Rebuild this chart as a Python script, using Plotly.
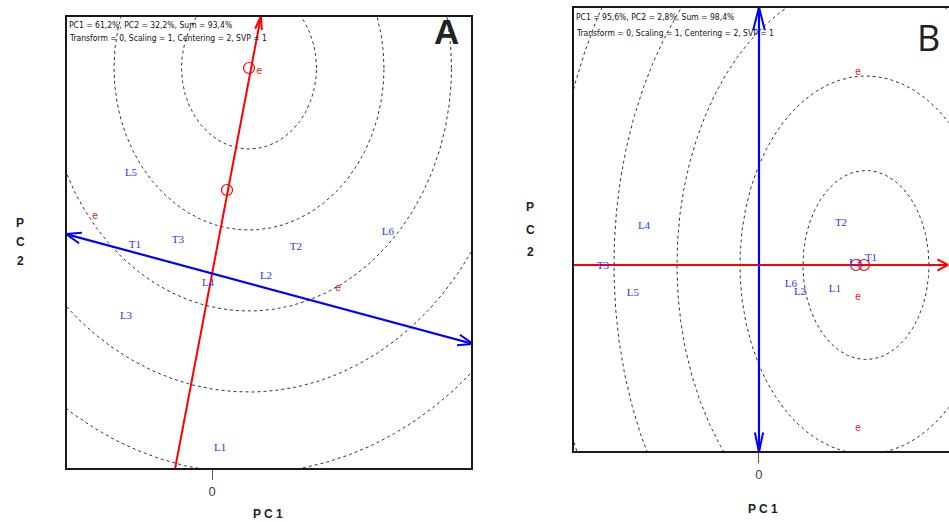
import numpy as np
import plotly.graph_objects as go

W, H = 949, 522

# ---------------- Panel A data (PC1, PC2 scores) ----------------
a_labels = ["L5", "T1", "T3", "T2", "L6", "L2", "L4", "L3", "L1"]
a_pc1 = [-1.20, -1.141, -0.504, 1.244, 2.607, 0.80, -0.059, -1.274, 0.119]
a_pc2 = [1.247, 0.358, 0.420, 0.333, 0.519, -0.025, -0.111, -0.519, -2.148]
a_e_pc1 = [-1.733, 1.867, 0.70]
a_e_pc2 = [0.716, -0.173, 2.50]
a_circ_pc1 = [0.548, 0.222]
a_circ_pc2 = [2.543, 1.037]
a_atc_x = [-0.548, 0.726]      # average environment axis (red)
a_atc_y = [-2.407, 3.185]
a_ord_x = [-2.163, 3.867]      # ordinate (blue)
a_ord_y = [0.494, -0.864]
a_ring_center = (0.548, 2.543)
a_ring_radii = [1, 2, 3, 4, 5]
a_header = ["PC1 = 61,2%, PC2 = 32,2%, Sum = 93,4%",
            "Transform = 0, Scaling = 1, Centering = 2, SVP = 1"]

# ---------------- Panel B data ----------------
b_labels = ["T3", "L4", "T2", "L5", "L6", "L2", "L1", "T1", "L3"]
b_pc1 = [-2.476, -1.825, 1.302, -2.0, 0.508, 0.651, 1.206, 1.778, 1.524]
b_pc2 = [-0.011, 0.413, 0.444, -0.296, -0.201, -0.286, -0.254, 0.074, 0.021]
b_e_pc1 = [1.571, 1.571, 1.571]
b_e_pc2 = [2.032, -0.339, -1.725]
b_circ_pc1 = [1.54, 1.667]
b_circ_pc2 = [0.0, 0.0]
b_atc_x = [-2.952, 3.0]
b_atc_y = [0.0, 0.0]
b_ord_x = [0.0, 0.0]
b_ord_y = [-1.979, 2.730]
b_ring_center = (1.698, 0.0)
b_ring_radii = [1, 2, 3, 4, 5]
b_header = ["PC1 = 95,6%, PC2 = 2,8%, Sum = 98,4%",
            "Transform = 0, Scaling = 1, Centering = 2, SVP = 1"]

# ---------------- layout geometry (pixels) ----------------
A_px = dict(x0=66, x1=472, y0=16, y1=469)
B_px = dict(x0=573, x1=949, y0=7, y1=452)
A_xr, A_yr = [-2.163, 3.852], [-2.407, 3.185]
B_xr, B_yr = [-2.952, 3.016], [-1.979, 2.730]

RED = "#ff0000"
BLUE = "#0000ff"
LBLUE = "#2f2fff"
ERED = "#e01010"
LABFONT = "Liberation Serif, Times New Roman, serif"
SANS = "Liberation Sans, Arial, sans-serif"
COND = "DejaVu Sans Condensed, Liberation Sans Narrow, Arial Narrow, sans-serif"

fig = go.Figure()


def scales(px, xr, yr):
    sx = (px["x1"] - px["x0"]) / (xr[1] - xr[0])
    sy = (px["y1"] - px["y0"]) / (yr[1] - yr[0])
    return sx, sy


def wings(tip, frm, sx, sy, length, ang):
    dx = (frm[0] - tip[0]) * sx
    dy = (frm[1] - tip[1]) * sy
    n = np.hypot(dx, dy)
    ux, uy = dx / n, dy / n
    out_x, out_y = [], []
    for s in (1, -1):
        a = np.deg2rad(ang) * s
        rx = ux * np.cos(a) - uy * np.sin(a)
        ry = ux * np.sin(a) + uy * np.cos(a)
        out_x.append(tip[0] + rx * length / sx)
        out_y.append(tip[1] + ry * length / sy)
    return [out_x[0], tip[0], out_x[1]], [out_y[0], tip[1], out_y[1]]


def panel(xa, ya, px, xr, yr, labels, p1, p2, e1, e2, c1, c2,
          atc_x, atc_y, ord_x, ord_y, rc, radii, arrows):
    sx, sy = scales(px, xr, yr)
    th = np.linspace(0, 2 * np.pi, 721)
    for r in radii:
        fig.add_trace(go.Scatter(
            x=rc[0] + r * np.cos(th), y=rc[1] + r * np.sin(th), mode="lines",
            line=dict(color="#333333", width=1, dash="3px,3px"),
            xaxis=xa, yaxis=ya, hoverinfo="skip", showlegend=False))
    fig.add_trace(go.Scatter(x=atc_x, y=atc_y, mode="lines",
                             line=dict(color=RED, width=2), xaxis=xa, yaxis=ya,
                             hoverinfo="skip", showlegend=False))
    fig.add_trace(go.Scatter(x=ord_x, y=ord_y, mode="lines",
                             line=dict(color=BLUE, width=2.2), xaxis=xa, yaxis=ya,
                             hoverinfo="skip", showlegend=False))
    for (tip, frm, color, L, ang) in arrows:
        wx, wy = wings(tip, frm, sx, sy, L, ang)
        fig.add_trace(go.Scatter(x=wx, y=wy, mode="lines",
                                 line=dict(color=color, width=2), xaxis=xa, yaxis=ya,
                                 hoverinfo="skip", showlegend=False, cliponaxis=False))
    fig.add_trace(go.Scatter(x=c1, y=c2, mode="markers",
                             marker=dict(symbol="circle-open", size=11,
                                         color=RED, line=dict(width=1.2, color=RED)),
                             xaxis=xa, yaxis=ya, hoverinfo="skip", showlegend=False))
    fig.add_trace(go.Scatter(x=p1, y=p2, mode="text", text=labels,
                             textfont=dict(family=LABFONT, size=11, color=LBLUE),
                             xaxis=xa, yaxis=ya, hoverinfo="skip", showlegend=False))
    fig.add_trace(go.Scatter(x=e1, y=e2, mode="text", text=["e"] * len(e1),
                             textfont=dict(family=SANS, size=10, color=ERED),
                             xaxis=xa, yaxis=ya, hoverinfo="skip", showlegend=False))


panel("x", "y", A_px, A_xr, A_yr, a_labels, a_pc1, a_pc2, a_e_pc1, a_e_pc2,
      a_circ_pc1, a_circ_pc2, a_atc_x, a_atc_y, a_ord_x, a_ord_y,
      a_ring_center, a_ring_radii,
      [((a_atc_x[1], a_atc_y[1]), (a_atc_x[0], a_atc_y[0]), RED, 14, 14),
       ((a_ord_x[0], a_ord_y[0]), (a_ord_x[1], a_ord_y[1]), BLUE, 16, 20),
       ((a_ord_x[1], a_ord_y[1]), (a_ord_x[0], a_ord_y[0]), BLUE, 16, 20)])

panel("x2", "y2", B_px, B_xr, B_yr, b_labels, b_pc1, b_pc2, b_e_pc1, b_e_pc2,
      b_circ_pc1, b_circ_pc2, b_atc_x, b_atc_y, b_ord_x, b_ord_y,
      b_ring_center, b_ring_radii,
      [((b_atc_x[1], b_atc_y[1]), (b_atc_x[0], b_atc_y[0]), RED, 12, 28),
       ((b_ord_x[1], b_ord_y[1]), (b_ord_x[0], b_ord_y[0]), BLUE, 24, 14),
       ((b_ord_x[0], b_ord_y[0]), (b_ord_x[1], b_ord_y[1]), BLUE, 20, 12)])


def dom(px):
    return ([px["x0"] / W, min(px["x1"] / W, 1.0)],
            [(H - px["y1"]) / H, (H - px["y0"]) / H])


Ax, Ay = dom(A_px)
Bx, By = dom(B_px)

xcommon = dict(showgrid=False, zeroline=False, showline=False,
               tickmode="array", tickvals=[0], ticktext=["0"], ticks="outside",
               ticklen=10, tickwidth=1, tickcolor="#555555",
               tickfont=dict(family=SANS, size=13, color="#444444"), fixedrange=True)
ycommon = dict(showgrid=False, zeroline=False, showline=False,
               showticklabels=False, ticks="", fixedrange=True)

fig.update_layout(
    width=W, height=H, margin=dict(l=0, r=0, t=0, b=0),
    paper_bgcolor="white", plot_bgcolor="white", showlegend=False,
    xaxis=dict(domain=Ax, range=A_xr, anchor="y", **xcommon),
    yaxis=dict(domain=Ay, range=A_yr, anchor="x", **ycommon),
    xaxis2=dict(domain=Bx, range=B_xr, anchor="y2", **xcommon),
    yaxis2=dict(domain=By, range=B_yr, anchor="x2", **ycommon),
)

fig.add_shape(type="rect", xref="x domain", yref="y domain", x0=0, x1=1, y0=0, y1=1,
              line=dict(color="#1a1a1a", width=2), layer="above")
fig.add_shape(type="rect", xref="x2 domain", yref="y2 domain", x0=0, x1=1.05, y0=0, y1=1,
              line=dict(color="#1a1a1a", width=2), layer="above")

ann = []
for i, t in enumerate(a_header):
    ann.append(dict(text=t, xref="paper", yref="paper", x=67 / W, y=1 - (25 + 13 * i) / H,
                    xanchor="left", yanchor="middle", showarrow=False,
                    font=dict(family=COND, size=8.5, color="#111111")))
for i, t in enumerate(b_header):
    ann.append(dict(text=t, xref="paper", yref="paper", x=574 / W, y=1 - (17 + 16 * i) / H,
                    xanchor="left", yanchor="middle", showarrow=False,
                    font=dict(family=COND, size=8.5, color="#111111")))
ann.append(dict(text="<b>A</b>", xref="paper", yref="paper", x=446 / W, y=1 - 31 / H,
                xanchor="center", yanchor="middle", showarrow=False,
                font=dict(family=SANS, size=35, color="#222222")))
ann.append(dict(text="B", xref="paper", yref="paper", x=928 / W, y=1 - 37 / H,
                xanchor="center", yanchor="middle", showarrow=False,
                font=dict(family="Open Sans, Noto Sans, sans-serif", size=36, color="#222222")))
ann.append(dict(text="<b>P C 1</b>", xref="paper", yref="paper", x=268 / W, y=1 - 514 / H,
                xanchor="center", yanchor="middle", showarrow=False,
                font=dict(family=SANS, size=12, color="#222222")))
ann.append(dict(text="<b>P C 1</b>", xref="paper", yref="paper", x=763 / W, y=1 - 509 / H,
                xanchor="center", yanchor="middle", showarrow=False,
                font=dict(family=SANS, size=12, color="#222222")))
for ch, yy in zip(["P", "C", "2"], [223, 242, 261]):
    ann.append(dict(text="<b>%s</b>" % ch, xref="paper", yref="paper", x=20 / W, y=1 - yy / H,
                    xanchor="center", yanchor="middle", showarrow=False,
                    font=dict(family=SANS, size=12, color="#222222")))
for ch, yy in zip(["P", "C", "2"], [207, 230, 252]):
    ann.append(dict(text="<b>%s</b>" % ch, xref="paper", yref="paper", x=530 / W, y=1 - yy / H,
                    xanchor="center", yanchor="middle", showarrow=False,
                    font=dict(family=SANS, size=12, color="#222222")))
fig.update_layout(annotations=ann)

fig.write_html("out.html", config={"displayModeBar": False},
               post_script="document.body.style.margin='0';document.body.style.padding='0';"
                           "document.documentElement.style.overflow='hidden';")
